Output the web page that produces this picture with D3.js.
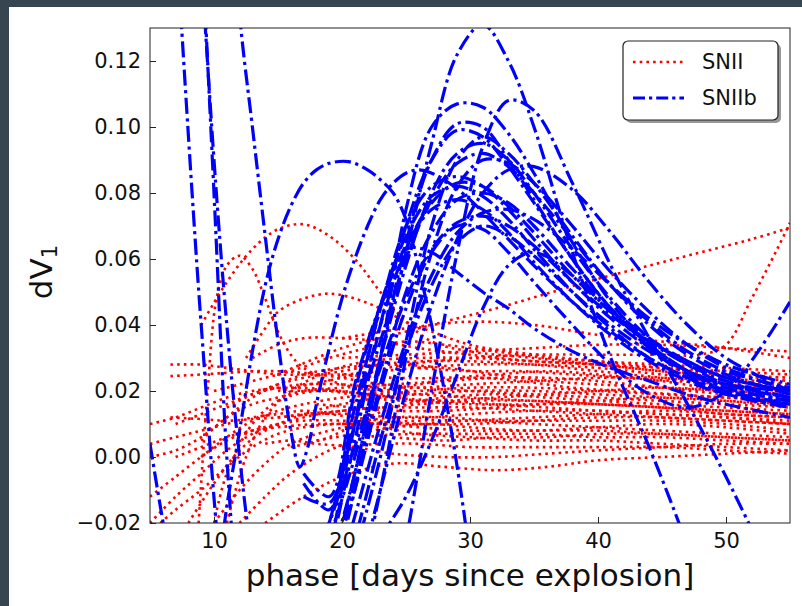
<!DOCTYPE html>
<html>
<head>
<meta charset="utf-8">
<script src="https://cdn.jsdelivr.net/npm/d3@7"></script>
<style>
  body { margin: 0; background: #36454f; }
  text { font-family: "DejaVu Sans", sans-serif; fill: #111; }
</style>
</head>
<body>
<svg width="802" height="606"></svg>
<script>
// ---- data: [phase (days), dV1] ----
const xTicks = [10, 20, 30, 40, 50];
const yTicks = [-0.02, 0.00, 0.02, 0.04, 0.06, 0.08, 0.10, 0.12];
const legendLabels = ["SNII", "SNIIb"];

// SNII (red, dotted)
const snII = [
  [[6.6,0.028],[9,0.028],[11,0.027],[13,0.026],[15,0.025],[17,0.025],[20,0.025],[23,0.026],[26,0.027],[30,0.028],[35,0.028],[40,0.027],[45,0.025],[50,0.023],[55,0.021]],
  [[6.6,0.0245],[9,0.025],[11,0.0255],[13,0.026],[15,0.026],[17,0.0255],[20,0.024],[23,0.022],[26,0.021],[30,0.02],[35,0.019],[40,0.018],[45,0.017],[50,0.016],[55,0.015]],
  [[6.6,0.012],[9,0.0115],[11,0.011],[13,0.0115],[15,0.012],[17,0.013],[20,0.014],[23,0.015],[26,0.016],[30,0.017],[35,0.017],[40,0.016],[45,0.015],[50,0.014],[55,0.013]],
  [[5,0.004],[7,0.006],[9,0.008],[11,0.01],[13,0.012],[15,0.013],[17,0.014],[20,0.0125],[23,0.011],[26,0.01],[30,0.01],[35,0.011],[40,0.012],[45,0.012],[50,0.011],[55,0.01]],
  [[5,-0.012],[7,-0.006],[9,0.0],[11,0.005],[13,0.008],[15,0.01],[17,0.011],[20,0.011],[23,0.01],[26,0.009],[30,0.008],[35,0.008],[40,0.008],[45,0.007],[50,0.006],[55,0.005]],
  [[5,-0.02],[7,-0.012],[9,-0.005],[11,0.002],[13,0.007],[15,0.01],[17,0.013],[20,0.016],[23,0.018],[26,0.019],[30,0.02],[35,0.02],[40,0.019],[45,0.018],[50,0.017],[55,0.016]],
  [[5.8,-0.02],[7,-0.016],[9,-0.01],[11,-0.003],[13,0.003],[15,0.007],[17,0.009],[20,0.01],[23,0.009],[26,0.007],[30,0.006],[35,0.005],[40,0.005],[45,0.004],[50,0.003],[55,0.002]],
  [[8.8,-0.02],[9.5,0.02],[10.2,0.048],[11,0.058],[12,0.061],[13,0.057],[14,0.048],[15,0.038],[16,0.031],[17,0.027],[20,0.022],[23,0.02],[26,0.019],[30,0.018],[35,0.017],[40,0.016],[45,0.015],[50,0.014],[55,0.013]],
  [[9,0.04],[11,0.053],[13,0.063],[15,0.069],[17,0.0705],[19,0.067],[21,0.06],[23,0.05],[25,0.041],[27,0.035],[30,0.032],[35,0.03],[40,0.028],[45,0.026],[50,0.024],[55,0.022]],
  [[12.5,0.03],[14,0.039],[15,0.044],[17,0.048],[19,0.0495],[21,0.048],[23,0.045],[25,0.041],[27,0.038],[30,0.034],[35,0.031],[40,0.029],[45,0.027],[50,0.025],[55,0.023]],
  [[13,0.03],[15,0.034],[17,0.036],[20,0.036],[23,0.035],[26,0.033],[30,0.031],[35,0.029],[40,0.028],[45,0.026],[50,0.025],[55,0.024]],
  [[15,0.025],[20,0.033],[24,0.037],[28,0.041],[32,0.045],[36,0.0495],[40,0.054],[44,0.058],[48,0.062],[52,0.066],[55,0.0695]],
  [[15,0.02],[20,0.024],[25,0.028],[30,0.03],[35,0.031],[40,0.031],[45,0.031],[48,0.031],[50,0.034],[52,0.048],[54,0.063],[55,0.071]],
  [[20,0.036],[25,0.039],[30,0.041],[35,0.04],[40,0.037],[45,0.035],[50,0.033],[55,0.03]],
  [[20,0.03],[25,0.031],[30,0.032],[35,0.033],[40,0.034],[45,0.034],[50,0.033],[55,0.032]],
  [[9,0.0],[11,0.006],[13,0.011],[15,0.014],[17,0.016],[20,0.018],[23,0.019],[26,0.02],[30,0.021],[35,0.021],[40,0.02],[45,0.019],[50,0.018],[55,0.017]],
  [[8,-0.02],[10,-0.008],[12,0.002],[14,0.008],[17,0.012],[20,0.014],[23,0.015],[26,0.015],[30,0.015],[35,0.014],[40,0.013],[45,0.012],[50,0.011],[55,0.01]],
  [[10,-0.02],[12,-0.01],[14,-0.002],[16,0.004],[19,0.008],[22,0.01],[26,0.011],[30,0.011],[35,0.01],[40,0.009],[45,0.008],[50,0.007],[55,0.006]],
  [[12,-0.02],[14,-0.012],[16,-0.005],[19,0.002],[22,0.006],[26,0.007],[30,0.007],[35,0.007],[40,0.006],[45,0.006],[50,0.005],[55,0.004]],
  [[14,-0.02],[17,-0.012],[20,-0.006],[24,-0.002],[28,-0.003],[32,-0.004],[36,-0.003],[40,-0.001],[45,0.0],[50,0.001],[55,0.002]],
  [[7,0.01],[9,0.013],[11,0.016],[13,0.019],[15,0.021],[17,0.022],[20,0.022],[23,0.021],[26,0.021],[30,0.022],[35,0.023],[40,0.024],[45,0.024],[50,0.023],[55,0.022]],
  [[11,0.015],[13,0.019],[15,0.022],[17,0.024],[20,0.026],[23,0.028],[26,0.029],[30,0.029],[35,0.028],[40,0.026],[45,0.024],[50,0.022],[55,0.02]],
  [[15,0.012],[18,0.013],[21,0.013],[24,0.012],[27,0.012],[30,0.013],[35,0.014],[40,0.014],[45,0.013],[50,0.012],[55,0.011]],
  [[16,0.02],[19,0.02],[22,0.018],[25,0.017],[28,0.017],[32,0.018],[36,0.019],[40,0.02],[45,0.021],[50,0.02],[55,0.019]],
  [[18,0.005],[21,0.007],[24,0.009],[27,0.01],[30,0.009],[35,0.008],[40,0.009],[45,0.01],[50,0.009],[55,0.007]],
  [[20,0.003],[23,0.004],[26,0.004],[30,0.003],[35,0.003],[40,0.003],[45,0.003],[50,0.002],[55,0.001]],
  [[20,0.025],[24,0.024],[28,0.024],[32,0.025],[36,0.026],[40,0.025],[45,0.023],[50,0.02],[55,0.018]],
  [[9,0.005],[11,0.012],[13,0.016],[15,0.018],[17,0.02],[20,0.021],[24,0.022],[28,0.023],[32,0.024],[36,0.024],[40,0.023],[45,0.021],[50,0.019],[55,0.018]],
  [[7,0.0],[9,0.003],[11,0.006],[13,0.008],[15,0.009],[18,0.01],[22,0.01],[26,0.01],[30,0.011],[35,0.012],[40,0.013],[45,0.014],[50,0.013],[55,0.012]],
  [[10,-0.02],[11,-0.005],[13,0.01],[15,0.017],[18,0.02],[22,0.019],[26,0.017],[30,0.016],[35,0.016],[40,0.017],[45,0.018],[50,0.017],[55,0.015]],
  [[11,-0.02],[12.5,0.0],[14,0.012],[16,0.02],[19,0.026],[22,0.029],[26,0.03],[30,0.03],[35,0.029],[40,0.028],[45,0.027],[50,0.026],[55,0.025]],
  [[5,0.0],[7,0.002],[9,0.006],[11,0.012],[13,0.018],[15,0.022],[17,0.025],[20,0.027],[24,0.028],[28,0.027],[32,0.025],[36,0.023],[40,0.022],[45,0.021],[50,0.02],[55,0.019]],
  [[16,0.003],[19,0.006],[22,0.012],[25,0.016],[28,0.018],[32,0.019],[36,0.018],[40,0.017],[45,0.016],[50,0.015],[55,0.014]],
  [[18,0.016],[21,0.015],[24,0.014],[28,0.014],[32,0.015],[36,0.016],[40,0.016],[45,0.015],[50,0.013],[55,0.012]],
  [[20,0.01],[24,0.012],[28,0.012],[32,0.011],[36,0.011],[40,0.011],[45,0.011],[50,0.01],[55,0.008]],
  [[22,0.019],[26,0.022],[30,0.024],[34,0.023],[38,0.021],[42,0.02],[46,0.019],[50,0.018],[55,0.017]],
  [[24,0.006],[28,0.005],[32,0.006],[36,0.006],[40,0.007],[45,0.007],[50,0.006],[55,0.005]],
  [[10,0.02],[12,0.022],[14,0.024],[16,0.026],[19,0.03],[22,0.033],[25,0.035],[28,0.034],[32,0.032],[36,0.03],[40,0.029],[45,0.028],[50,0.027],[55,0.026]],
  [[5,0.01],[7,0.012],[9,0.015],[11,0.018],[13,0.02],[16,0.021],[20,0.02],[24,0.018],[28,0.017],[32,0.016],[36,0.015],[40,0.014],[45,0.013],[50,0.012],[55,0.01]],
  [[26,0.027],[30,0.026],[34,0.026],[38,0.025],[42,0.024],[46,0.023],[50,0.022],[55,0.02]],
  [[14,0.004],[16,0.005],[18,0.004],[21,0.003],[24,0.001],[28,0.0],[32,0.0],[36,0.001],[40,0.002],[45,0.003],[50,0.004],[55,0.004]]
];

// SNIIb (blue, dash-dot): curves that reach into the early phases
const snIIbEarly = [
  [[7,0.16],[9,0.04],[11,-0.05],[13,-0.09],[15,-0.1],[17,-0.08],[19,-0.035],[21,-0.005],[23,0.03],[25,0.062],[27,0.095],[29,0.122],[31,0.131],[33,0.12],[35,0.1],[38,0.062],[41,0.03],[44,0.003],[47,-0.027],[50,-0.06]],
  [[9,0.16],[10,0.08],[11,0.0],[12,-0.05],[13,-0.08],[15,-0.12],[17,-0.13],[19,-0.12],[21,-0.09],[23,-0.06],[25,-0.025],[27,0.02],[29,0.062],[31,0.094],[33,0.108],[35,0.105],[38,0.083],[41,0.058],[44,0.036],[47,0.016],[50,-0.006],[53,-0.03]],
  [[9,0.15],[10,0.09],[11,0.04],[12,0.0],[13,-0.03],[15,-0.065],[17,-0.065],[19,-0.04],[21,-0.01],[23,0.03],[25,0.075],[27,0.1],[29,0.107],[31,0.106],[33,0.098],[35,0.086],[38,0.065],[41,0.047],[44,0.034],[47,0.026],[50,0.022],[55,0.02]],
  [[5,0.004],[7,-0.04],[9,-0.07],[13,-0.09],[17,-0.06],[19,-0.035],[21,-0.005],[23,0.03],[25,0.065],[27,0.09],[29,0.101],[31,0.1],[33,0.09],[35,0.078],[38,0.06],[41,0.045],[44,0.033],[47,0.025],[50,0.02],[55,0.016]],
  [[10.5,-0.03],[11,-0.015],[12,0.008],[13,0.032],[14,0.052],[15,0.066],[16,0.076],[17,0.083],[18,0.087],[19,0.089],[20.5,0.0895],[22,0.087],[23,0.084],[24,0.08],[25,0.072],[26,0.057],[27,0.04],[28,0.02],[29,-0.003],[30,-0.03]],
  [[11.5,0.16],[12.1,0.13],[13,0.1],[14,0.067],[15,0.035],[16,0.008],[16.7,-0.003],[17.4,0.004],[18,0.016],[19,0.033],[20,0.048],[21,0.06],[22,0.07],[23,0.078],[24,0.083],[25,0.086],[26,0.087],[27,0.086],[28,0.084],[30,0.078],[32,0.07],[35,0.058],[38,0.047],[41,0.038],[44,0.03],[47,0.024],[50,0.02],[55,0.016]]
];

// SNIIb: curves starting near the minimum, on a shared phase grid
const snIIbPhases = [17, 19, 21, 23, 25, 27, 29, 31, 33, 35, 38, 41, 44, 47, 50, 55];
const snIIbMain = [
  [-0.06,-0.03,0.005,0.04,0.07,0.09,0.099,0.097,0.088,0.077,0.06,0.045,0.034,0.026,0.021,0.017],
  [-0.08,-0.06,-0.03,0.0,0.035,0.07,0.09,0.097,0.092,0.083,0.067,0.052,0.04,0.031,0.025,0.019],
  [-0.05,-0.025,0.0,0.03,0.058,0.08,0.092,0.095,0.09,0.08,0.063,0.048,0.036,0.028,0.022,0.018],
  [-0.04,-0.02,0.01,0.035,0.06,0.078,0.089,0.092,0.088,0.08,0.066,0.052,0.041,0.032,0.026,0.021],
  [-0.09,-0.07,-0.045,-0.01,0.03,0.062,0.082,0.09,0.089,0.083,0.07,0.056,0.044,0.034,0.027,0.02],
  [-0.1,-0.07,-0.04,-0.01,0.02,0.046,0.066,0.08,0.087,0.088,0.081,0.068,0.053,0.04,0.03,0.02],
  [-0.012,-0.014,0.015,0.045,0.07,0.082,0.085,0.082,0.075,0.066,0.053,0.042,0.033,0.026,0.021,0.017],
  [-0.045,-0.02,0.01,0.04,0.063,0.077,0.083,0.082,0.076,0.068,0.055,0.044,0.035,0.028,0.023,0.018],
  [-0.008,-0.016,0.02,0.046,0.067,0.079,0.082,0.079,0.072,0.063,0.05,0.039,0.03,0.024,0.019,0.015],
  [-0.06,-0.035,-0.008,0.022,0.05,0.068,0.078,0.08,0.077,0.07,0.057,0.045,0.036,0.029,0.024,0.02],
  [-0.005,-0.012,0.022,0.046,0.064,0.075,0.078,0.075,0.068,0.059,0.047,0.037,0.029,0.023,0.019,0.016],
  [-0.07,-0.045,-0.018,0.01,0.035,0.055,0.068,0.074,0.075,0.072,0.063,0.052,0.042,0.034,0.028,0.022],
  [-0.04,-0.02,0.003,0.027,0.048,0.063,0.071,0.073,0.07,0.064,0.053,0.043,0.035,0.029,0.024,0.02],
  [-0.07,-0.05,-0.025,0.005,0.032,0.052,0.065,0.07,0.067,0.061,0.05,0.04,0.032,0.026,0.022,0.018],
  [-0.09,-0.07,-0.045,-0.025,-0.012,0.005,0.025,0.045,0.058,0.062,0.055,0.044,0.034,0.026,0.02,0.015],
  [-0.08,-0.03,0.01,0.045,0.063,0.062,0.056,0.05,0.045,0.039,0.032,0.027,0.023,0.019,0.016,0.012],
  [-0.06,-0.035,-0.01,0.02,0.045,0.062,0.07,0.069,0.062,0.053,0.04,0.028,0.019,0.015,0.02,0.047]
];

// ---- drawing ----
const svg = d3.select("svg");

svg.append("rect").attr("width", 802).attr("height", 606).attr("fill", "#36454f");
svg.append("rect").attr("x", 9).attr("y", 7).attr("width", 793).attr("height", 599).attr("fill", "#ffffff");

const x = d3.scaleLinear().domain([5, 55]).range([150, 790]);
const y = d3.scaleLinear().domain([-0.02, 0.13]).range([523, 28]);

svg.append("clipPath").attr("id", "plot-clip")
  .append("rect")
  .attr("x", 150).attr("y", 28)
  .attr("width", 640).attr("height", 495);

const line = d3.line()
  .x(d => x(d[0]))
  .y(d => y(d[1]))
  .curve(d3.curveCatmullRom.alpha(0.5));

const plot = svg.append("g").attr("clip-path", "url(#plot-clip)");

plot.selectAll("path.snii")
  .data(snII)
  .enter()
  .append("path")
  .attr("class", "snii")
  .attr("d", line)
  .attr("fill", "none")
  .attr("stroke", "#ff0000")
  .attr("stroke-width", 2.6)
  .attr("stroke-dasharray", "2.6 4.1");

const mainCurves = snIIbMain.map(row => row.map((v, i) => [snIIbPhases[i], v]));

plot.selectAll("path.sniib")
  .data(snIIbEarly.concat(mainCurves))
  .enter()
  .append("path")
  .attr("class", "sniib")
  .attr("d", line)
  .attr("fill", "none")
  .attr("stroke", "#0000ff")
  .attr("stroke-width", 3.2)
  .attr("stroke-dasharray", "16 4.5 3.2 4.5");

// axes with inward ticks
const xAxis = svg.append("g")
  .attr("transform", "translate(0,523)")
  .call(d3.axisBottom(x).tickValues(xTicks).tickSize(-6).tickPadding(10).tickFormat(d3.format("d")));

const yAxis = svg.append("g")
  .attr("transform", "translate(150,0)")
  .call(d3.axisLeft(y).tickValues(yTicks).tickSize(-6).tickPadding(9).tickFormat(d3.format(".2f")));

[xAxis, yAxis].forEach(g => {
  g.select(".domain").remove();
  g.selectAll(".tick line").attr("stroke", "#222").attr("stroke-width", 1);
  g.selectAll(".tick text")
    .style("font-family", "DejaVu Sans")
    .style("font-size", "21px")
    .attr("fill", "#111");
});

svg.append("rect")
  .attr("x", 150).attr("y", 28)
  .attr("width", 640).attr("height", 495)
  .attr("fill", "none")
  .attr("stroke", "#222")
  .attr("stroke-width", 1);

svg.append("text")
  .attr("x", 470).attr("y", 586)
  .attr("text-anchor", "middle")
  .style("font-size", "31px")
  .text("phase [days since explosion]");

const yLabel = svg.append("text")
  .attr("transform", "translate(52,272) rotate(-90)")
  .attr("text-anchor", "middle")
  .style("font-size", "31px");
yLabel.append("tspan").text("dV");
yLabel.append("tspan").attr("baseline-shift", "-25%").style("font-size", "21px").text("1");

// legend
const legend = svg.append("g");
legend.append("rect")
  .attr("x", 626).attr("y", 44)
  .attr("width", 155).attr("height", 79)
  .attr("rx", 5)
  .attr("fill", "#999");
legend.append("rect")
  .attr("x", 623).attr("y", 41)
  .attr("width", 155).attr("height", 79)
  .attr("rx", 5)
  .attr("fill", "#ffffff")
  .attr("stroke", "#222")
  .attr("stroke-width", 1.2);

const legendStyles = [
  { color: "#ff0000", width: 2.6, dash: "2.6 4.1" },
  { color: "#0000ff", width: 3.2, dash: "12 4 3.2 4" }
];

legendLabels.forEach((label, i) => {
  const ly = 62 + i * 36;
  legend.append("line")
    .attr("x1", 633).attr("x2", 684)
    .attr("y1", ly).attr("y2", ly)
    .attr("stroke", legendStyles[i].color)
    .attr("stroke-width", legendStyles[i].width)
    .attr("stroke-dasharray", legendStyles[i].dash);
  legend.append("text")
    .attr("x", 702).attr("y", ly + 7)
    .style("font-size", "21px")
    .text(label);
});
</script>
</body>
</html>
